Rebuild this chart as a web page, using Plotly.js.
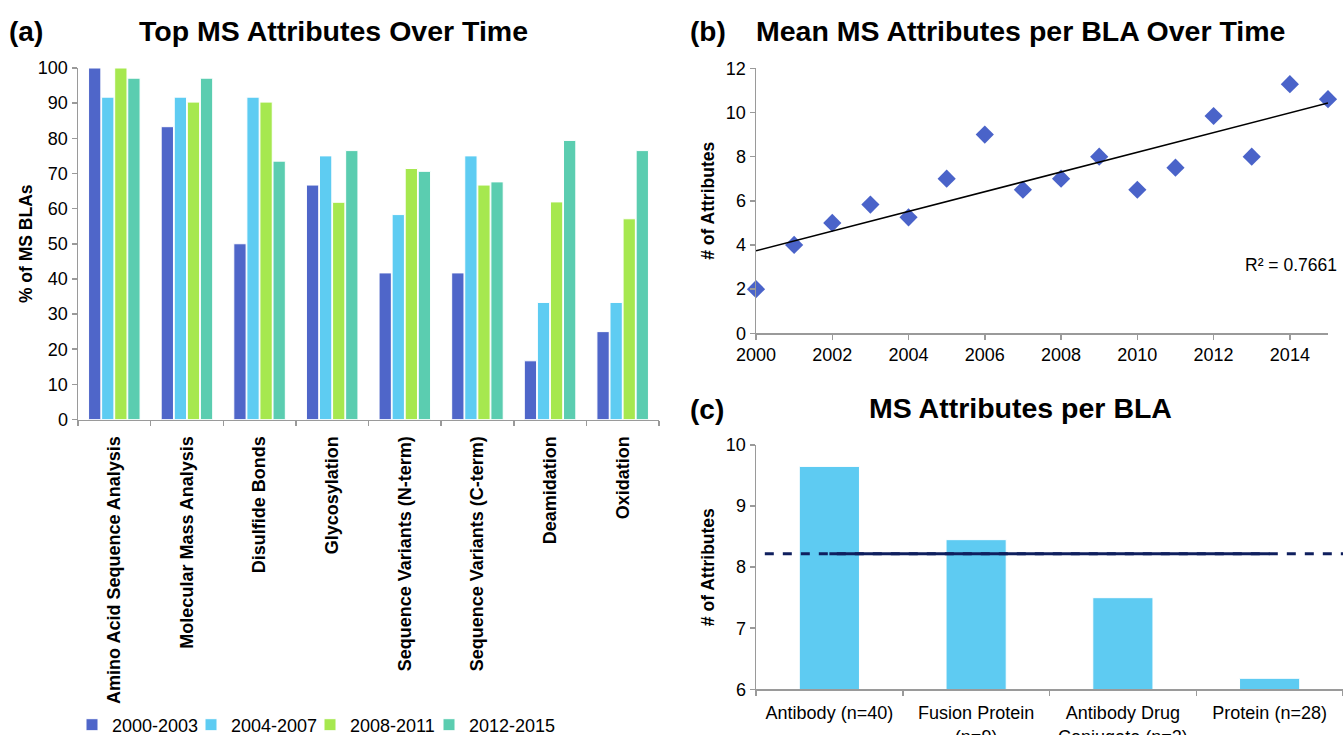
<!DOCTYPE html>
<html>
<head>
<meta charset="utf-8">
<script src="https://cdn.plot.ly/plotly-3.0.1.min.js"></script>
<style>html,body{margin:0;padding:0;background:#fff}#chart{width:1343px;height:735px}</style>
</head>
<body>
<div id="chart"></div>
<script>
// ---- Panel (a) data ----
const attrCategories = ["Amino Acid Sequence Analysis", "Molecular Mass Analysis", "Disulfide Bonds", "Glycosylation",
  "Sequence Variants (N-term)", "Sequence Variants (C-term)", "Deamidation", "Oxidation"];
const periodNames = ["2000-2003", "2004-2007", "2008-2011", "2012-2015"];
const pct2000_2003 = [100, 83.3, 50, 66.7, 41.7, 41.7, 16.7, 25];
const pct2004_2007 = [91.7, 91.7, 91.7, 75, 58.3, 75, 33.3, 33.3];
const pct2008_2011 = [100, 90.3, 90.3, 61.8, 71.4, 66.7, 61.9, 57.1];
const pct2012_2015 = [97.1, 97.1, 73.5, 76.5, 70.6, 67.6, 79.4, 76.5];
const periodColors = ["#4F66C9", "#5ECCF2", "#A6E84F", "#5BCDB0"];

// ---- Panel (b) data ----
const years = [2000, 2001, 2002, 2003, 2004, 2005, 2006, 2007, 2008, 2009, 2010, 2011, 2012, 2013, 2014, 2015];
const meanAttributes = [2, 4, 5, 5.83, 5.25, 7, 9, 6.5, 7, 8, 6.5, 7.5, 9.84, 8, 11.28, 10.6];
const r2Label = "R² = 0.7661";

// ---- Panel (c) data ----
const moleculeTypes = ["Antibody (n=40)", "Fusion Protein<br>(n=9)", "Antibody Drug<br>Conjugate (n=2)", "Protein (n=28)"];
const attrsPerBLA = [9.65, 8.45, 7.5, 6.18];
const overallMean = [8.22];

// linear regression for trend line
function linfit(xs, ys) {
  const n = xs.length;
  const mx = xs.reduce((a, b) => a + b, 0) / n;
  const my = ys.reduce((a, b) => a + b, 0) / n;
  let sxy = 0, sxx = 0;
  for (let i = 0; i < n; i++) { sxy += (xs[i] - mx) * (ys[i] - my); sxx += (xs[i] - mx) ** 2; }
  const m = sxy / sxx;
  return { m: m, b: my - m * mx };
}
const fit = linfit(years, meanAttributes);
const trendX = [years[0], years[years.length - 1]];
const trendY = trendX.map(x => fit.m * x + fit.b);

const FONT = "Liberation Sans, Arial, sans-serif";
const AX = "#9a9a9a";
const W = 1343, H = 735;
const px = v => v / W;
const py = v => 1 - v / H;

const seriesVals = [pct2000_2003, pct2004_2007, pct2008_2011, pct2012_2015];
const traces = seriesVals.map((vals, i) => ({
  type: "bar", x: attrCategories, y: vals, name: periodNames[i],
  marker: { color: periodColors[i], line: { color: "#ffffff", width: 1 } },
  xaxis: "x", yaxis: "y", showlegend: true
}));
// invisible spacer entry so the last legend label is not clipped
traces.push({
  type: "scatter", mode: "markers", x: [null], y: [null], name: " ",
  marker: { size: 0, color: "rgba(0,0,0,0)", line: { width: 0 } }, xaxis: "x", yaxis: "y", showlegend: true, hoverinfo: "skip"
});

traces.push({
  type: "scatter", mode: "markers", x: years, y: meanAttributes,
  marker: { symbol: "diamond", size: 14, color: "#4A63C9" },
  xaxis: "x2", yaxis: "y2", showlegend: false, cliponaxis: false
});
traces.push({
  type: "scatter", mode: "lines", x: trendX, y: trendY,
  line: { color: "#000000", width: 1.5 },
  xaxis: "x2", yaxis: "y2", showlegend: false
});

traces.push({
  type: "bar", x: moleculeTypes, y: attrsPerBLA,
  marker: { color: "#5ECBF2", line: { color: "#ffffff", width: 1 } },
  xaxis: "x3", yaxis: "y3", showlegend: false, width: 0.41
});
traces.push({
  type: "scatter", mode: "lines",
  x: [moleculeTypes[0], moleculeTypes[moleculeTypes.length - 1]],
  y: [overallMean[0], overallMean[0]],
  line: { color: "#0F1F5E", width: 3 },
  xaxis: "x3", yaxis: "y3", showlegend: false
});

const tickFont = { family: FONT, size: 18, color: "#000" };
const axisCommon = {
  showline: true, linecolor: AX, linewidth: 1.5, ticks: "outside", tickcolor: AX,
  ticklen: 5, tickwidth: 1.5, showgrid: false, zeroline: false, tickfont: tickFont, fixedrange: true
};
const axTitleFont = { family: FONT, size: 17.5, weight: "bold", color: "#000" };

const layout = {
  width: W, height: H,
  margin: { l: 0, r: 0, t: 0, b: 0, autoexpand: false },
  paper_bgcolor: "#fff", plot_bgcolor: "#fff",
  font: { family: FONT, color: "#000" },
  barmode: "group", bargap: 0.28, bargroupgap: 0.06,
  showlegend: true,
  legend: {
    orientation: "h", x: px(72), xanchor: "left", y: py(725), yanchor: "middle",
    font: { family: FONT, size: 18, color: "#000" }, entrywidth: 74, entrywidthmode: "pixels",
    itemwidth: 30, traceorder: "normal", bgcolor: "rgba(0,0,0,0)"
  },
  xaxis: Object.assign({}, axisCommon, {
    domain: [px(78), px(659)], anchor: "y", type: "category", tickson: "boundaries",
    tickangle: -90, ticklabelstandoff: 8, tickfont: { family: FONT, size: 18, color: "#000", weight: "bold" }
  }),
  yaxis: Object.assign({}, axisCommon, {
    domain: [py(419.5), py(68)], anchor: "x", range: [0, 100], dtick: 10,
    title: { text: "% of MS BLAs", font: axTitleFont, standoff: 0 }
  }),
  xaxis2: Object.assign({}, axisCommon, {
    domain: [px(756), px(1328)], anchor: "y2", range: [2000, 2015], tick0: 2000, dtick: 2
  }),
  yaxis2: Object.assign({}, axisCommon, {
    domain: [py(333.3), py(68.3)], anchor: "x2", range: [0, 12], dtick: 2,
    title: { text: "# of Attributes", font: axTitleFont, standoff: 6 }
  }),
  xaxis3: Object.assign({}, axisCommon, {
    domain: [px(756), 1], anchor: "y3", type: "category", tickson: "boundaries", range: [-0.5, 3.5],
    ticklabelstandoff: 7
  }),
  yaxis3: Object.assign({}, axisCommon, {
    domain: [py(689.3), py(445)], anchor: "x3", range: [6, 10], dtick: 1,
    title: { text: "# of Attributes", font: axTitleFont, standoff: 6 }
  }),
  shapes: [{
    type: "line", xref: "x3 domain", yref: "y3", x0: 0.015, x1: 1, y0: overallMean[0], y1: overallMean[0],
    line: { color: "#0F1F5E", width: 3, dash: "dash" }, layer: "above"
  }],
  annotations: [
    { text: "(a)", x: px(7), y: py(31), xref: "paper", yref: "paper", xanchor: "left", yanchor: "middle", showarrow: false, font: { family: FONT, size: 28, weight: "bold" } },
    { text: "Top MS Attributes Over Time", x: px(333), y: py(31), xref: "paper", yref: "paper", xanchor: "center", yanchor: "middle", showarrow: false, font: { family: FONT, size: 28.5, weight: "bold" } },
    { text: "(b)", x: px(688), y: py(31), xref: "paper", yref: "paper", xanchor: "left", yanchor: "middle", showarrow: false, font: { family: FONT, size: 28, weight: "bold" } },
    { text: "Mean MS Attributes per BLA Over Time", x: px(1021), y: py(31), xref: "paper", yref: "paper", xanchor: "center", yanchor: "middle", showarrow: false, font: { family: FONT, size: 28.5, weight: "bold" } },
    { text: "(c)", x: px(688), y: py(409), xref: "paper", yref: "paper", xanchor: "left", yanchor: "middle", showarrow: false, font: { family: FONT, size: 28, weight: "bold" } },
    { text: "MS Attributes per BLA", x: px(1021), y: py(408), xref: "paper", yref: "paper", xanchor: "center", yanchor: "middle", showarrow: false, font: { family: FONT, size: 28.5, weight: "bold" } },
    { text: r2Label, x: px(1339), y: py(265), xref: "paper", yref: "paper", xanchor: "right", yanchor: "middle", showarrow: false, font: { family: FONT, size: 17.5 } }
  ]
};

Plotly.newPlot("chart", traces, layout, { staticPlot: true, displayModeBar: false });
</script>
</body>
</html>
